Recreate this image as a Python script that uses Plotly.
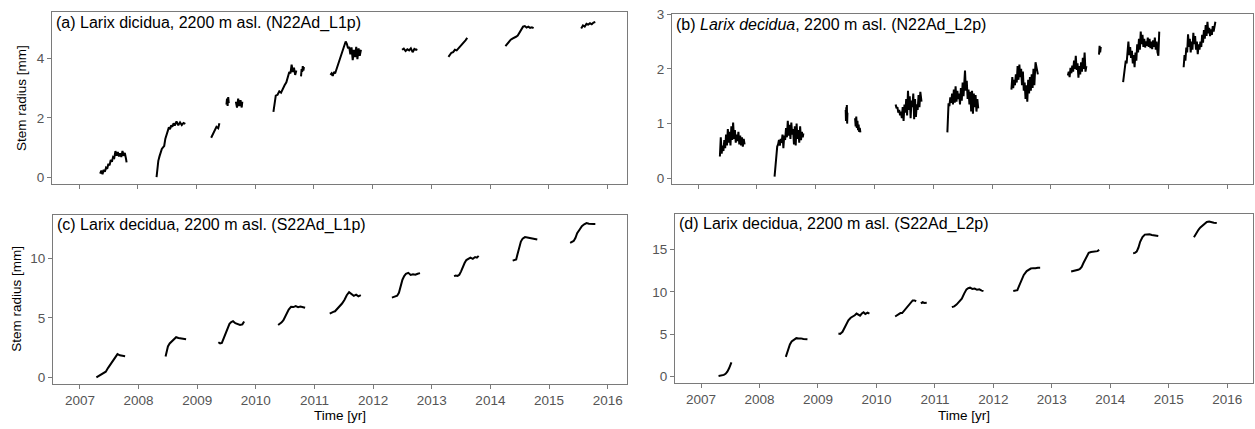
import plotly.graph_objects as go

# ---------------- data (decimal year, stem radius mm) ----------------
A_T = [
    [2007.36, 2007.38, 2007.40, 2007.42, 2007.44, 2007.46, 2007.48, 2007.50, 2007.52, 2007.54, 2007.56, 2007.58, 2007.60, 2007.62, 2007.64, 2007.66, 2007.68, 2007.70, 2007.72, 2007.74, 2007.76, 2007.78, 2007.80, 2007.81],
    [2008.32, 2008.33, 2008.35, 2008.37, 2008.39, 2008.41, 2008.43, 2008.45, 2008.47, 2008.49, 2008.51, 2008.53, 2008.55, 2008.57, 2008.59, 2008.61, 2008.63, 2008.66, 2008.69, 2008.72, 2008.75, 2008.78, 2008.81],
    [2009.25, 2009.28, 2009.31, 2009.34, 2009.37, 2009.39],
    [2009.51, 2009.52, 2009.53, 2009.54, 2009.55],
    [2009.67, 2009.69, 2009.71, 2009.73, 2009.75, 2009.77, 2009.78],
    [2010.31, 2010.33, 2010.35, 2010.38, 2010.41, 2010.44, 2010.47, 2010.50, 2010.53, 2010.56, 2010.58, 2010.60, 2010.62, 2010.64, 2010.66, 2010.68, 2010.70],
    [2010.78, 2010.79, 2010.80, 2010.81, 2010.82, 2010.83],
    [2011.28, 2011.30, 2011.32, 2011.34, 2011.36, 2011.38, 2011.40, 2011.42, 2011.44, 2011.46, 2011.48, 2011.50, 2011.52, 2011.54, 2011.56, 2011.58, 2011.60, 2011.62, 2011.64, 2011.66, 2011.68, 2011.70, 2011.72, 2011.74, 2011.76, 2011.78, 2011.80],
    [2012.50, 2012.53, 2012.56, 2012.59, 2012.62, 2012.65, 2012.68, 2012.71, 2012.74, 2012.76],
    [2013.29, 2013.31, 2013.34, 2013.37, 2013.40, 2013.43, 2013.46, 2013.49, 2013.52, 2013.55, 2013.58, 2013.61],
    [2014.26, 2014.29, 2014.32, 2014.35, 2014.38, 2014.41, 2014.44, 2014.47, 2014.50, 2014.53, 2014.56, 2014.59, 2014.62, 2014.65, 2014.68, 2014.71, 2014.74],
    [2015.55, 2015.58, 2015.61, 2015.64, 2015.67, 2015.70, 2015.73, 2015.76, 2015.79],
]
A_V = [
    [0.12, 0.22, 0.10, 0.25, 0.18, 0.32, 0.28, 0.45, 0.40, 0.58, 0.52, 0.68, 0.65, 0.88, 0.72, 0.85, 0.70, 0.80, 0.68, 0.88, 0.72, 0.82, 0.62, 0.50],
    [0.00, 0.30, 0.55, 0.70, 0.85, 0.95, 1.00, 1.05, 1.30, 1.45, 1.55, 1.68, 1.62, 1.75, 1.70, 1.82, 1.74, 1.88, 1.75, 1.85, 1.76, 1.83, 1.80],
    [1.33, 1.45, 1.55, 1.70, 1.65, 1.82],
    [2.45, 2.65, 2.40, 2.70, 2.50],
    [2.55, 2.35, 2.65, 2.40, 2.60, 2.35, 2.55],
    [2.20, 2.55, 2.75, 2.78, 2.90, 2.85, 3.00, 3.10, 3.20, 3.40, 3.55, 3.50, 3.80, 3.55, 3.70, 3.45, 3.60],
    [3.40, 3.65, 3.55, 3.75, 3.60, 3.72],
    [3.45, 3.50, 3.42, 3.55, 3.50, 3.62, 3.70, 3.85, 3.95, 4.05, 4.20, 4.30, 4.45, 4.58, 4.50, 4.35, 4.40, 4.15, 4.38, 3.95, 4.30, 4.05, 4.40, 3.98, 4.35, 4.10, 4.30],
    [4.30, 4.34, 4.26, 4.32, 4.28, 4.35, 4.22, 4.33, 4.30, 4.32],
    [4.06, 4.12, 4.20, 4.22, 4.30, 4.28, 4.35, 4.40, 4.48, 4.52, 4.62, 4.70],
    [4.42, 4.50, 4.58, 4.64, 4.68, 4.70, 4.74, 4.78, 4.88, 4.98, 5.08, 5.10, 5.05, 5.08, 5.04, 5.06, 5.03],
    [5.02, 5.12, 5.08, 5.18, 5.15, 5.20, 5.16, 5.22, 5.24],
]

B_T = [
    [2007.37, 2007.385, 2007.40, 2007.415, 2007.43, 2007.445, 2007.46, 2007.475, 2007.49, 2007.505, 2007.52, 2007.535, 2007.55, 2007.565, 2007.58, 2007.595, 2007.61, 2007.625, 2007.64, 2007.655, 2007.67, 2007.685, 2007.70, 2007.715, 2007.73, 2007.745, 2007.76, 2007.775, 2007.79],
    [2008.30, 2008.32, 2008.33, 2008.345, 2008.36, 2008.375, 2008.39, 2008.405, 2008.42, 2008.435, 2008.45, 2008.465, 2008.48, 2008.495, 2008.51, 2008.525, 2008.54, 2008.555, 2008.57, 2008.585, 2008.60, 2008.615, 2008.63, 2008.645, 2008.66, 2008.675, 2008.69, 2008.705, 2008.72, 2008.735, 2008.75, 2008.765, 2008.78, 2008.79],
    [2009.51, 2009.515, 2009.52, 2009.525, 2009.53, 2009.535, 2009.54],
    [2009.67, 2009.68, 2009.69, 2009.70, 2009.71, 2009.72, 2009.73, 2009.74, 2009.75, 2009.76],
    [2010.36, 2010.375, 2010.39, 2010.405, 2010.42, 2010.435, 2010.45, 2010.465, 2010.48, 2010.495, 2010.51, 2010.525, 2010.54, 2010.555, 2010.57, 2010.585, 2010.60, 2010.615, 2010.63, 2010.645, 2010.66, 2010.675, 2010.69, 2010.705, 2010.72, 2010.735, 2010.75, 2010.765, 2010.78, 2010.80],
    [2011.24, 2011.25, 2011.26, 2011.275, 2011.29, 2011.305, 2011.32, 2011.335, 2011.35, 2011.365, 2011.38, 2011.395, 2011.41, 2011.425, 2011.44, 2011.455, 2011.47, 2011.485, 2011.50, 2011.515, 2011.53, 2011.54, 2011.555, 2011.57, 2011.585, 2011.60, 2011.615, 2011.63, 2011.645, 2011.66, 2011.675, 2011.69, 2011.705, 2011.72, 2011.735, 2011.75, 2011.765],
    [2012.33, 2012.345, 2012.36, 2012.375, 2012.39, 2012.405, 2012.42, 2012.435, 2012.45, 2012.465, 2012.48, 2012.495, 2012.51, 2012.525, 2012.54, 2012.555, 2012.57, 2012.585, 2012.60, 2012.615, 2012.63, 2012.645, 2012.66, 2012.675, 2012.69, 2012.705, 2012.72, 2012.74, 2012.78],
    [2013.29, 2013.305, 2013.32, 2013.335, 2013.35, 2013.365, 2013.38, 2013.395, 2013.41, 2013.425, 2013.44, 2013.455, 2013.47, 2013.485, 2013.50, 2013.515, 2013.53, 2013.545, 2013.56, 2013.575, 2013.59, 2013.605],
    [2013.82, 2013.83, 2013.84, 2013.85],
    [2014.23, 2014.245, 2014.26, 2014.275, 2014.29, 2014.305, 2014.32, 2014.335, 2014.35, 2014.365, 2014.38, 2014.395, 2014.41, 2014.425, 2014.44, 2014.455, 2014.47, 2014.485, 2014.50, 2014.515, 2014.53, 2014.545, 2014.56, 2014.575, 2014.59, 2014.605, 2014.62, 2014.635, 2014.65, 2014.665, 2014.68, 2014.695, 2014.71, 2014.725, 2014.74, 2014.755, 2014.77, 2014.785, 2014.80, 2014.815, 2014.83, 2014.845],
    [2015.26, 2015.275, 2015.29, 2015.305, 2015.32, 2015.335, 2015.35, 2015.365, 2015.38, 2015.395, 2015.41, 2015.425, 2015.44, 2015.455, 2015.47, 2015.485, 2015.50, 2015.515, 2015.53, 2015.545, 2015.56, 2015.575, 2015.59, 2015.605, 2015.62, 2015.635, 2015.65, 2015.665, 2015.68, 2015.695, 2015.71, 2015.725, 2015.74, 2015.755, 2015.77, 2015.785, 2015.80],
]
B_V = [
    [0.40, 0.75, 0.45, 0.60, 0.50, 0.70, 0.55, 0.80, 0.60, 0.90, 0.65, 0.85, 0.60, 0.95, 0.70, 1.02, 0.72, 0.88, 0.65, 0.80, 0.68, 0.85, 0.62, 0.78, 0.60, 0.75, 0.58, 0.72, 0.62],
    [0.03, 0.30, 0.54, 0.58, 0.62, 0.70, 0.60, 0.72, 0.65, 0.80, 0.55, 0.78, 0.70, 0.92, 0.75, 1.05, 0.78, 0.98, 0.72, 1.02, 0.80, 0.90, 0.62, 0.95, 0.60, 1.00, 0.72, 0.88, 0.65, 0.95, 0.70, 0.85, 0.75, 0.82],
    [1.25, 1.05, 1.30, 1.10, 1.34, 1.00, 1.20],
    [1.10, 0.95, 1.13, 0.92, 1.05, 0.88, 0.98, 0.85, 0.92, 0.84],
    [1.35, 1.28, 1.30, 1.20, 1.25, 1.15, 1.22, 1.10, 1.30, 1.05, 1.35, 1.20, 1.45, 1.15, 1.60, 1.25, 1.50, 1.10, 1.42, 1.30, 1.55, 1.08, 1.45, 1.12, 1.35, 1.25, 1.52, 1.30, 1.58, 1.40],
    [0.84, 1.10, 1.37, 1.32, 1.48, 1.38, 1.55, 1.35, 1.62, 1.38, 1.68, 1.40, 1.60, 1.45, 1.55, 1.35, 1.65, 1.42, 1.75, 1.50, 1.85, 1.97, 1.60, 1.78, 1.45, 1.62, 1.35, 1.58, 1.22, 1.60, 1.18, 1.55, 1.30, 1.52, 1.22, 1.45, 1.28],
    [1.62, 1.85, 1.65, 1.80, 1.70, 1.90, 1.75, 2.05, 1.80, 2.08, 1.85, 2.00, 1.70, 1.95, 1.60, 1.75, 1.45, 1.70, 1.40, 1.80, 1.55, 1.85, 1.60, 1.90, 1.65, 2.00, 1.70, 2.12, 1.90],
    [1.88, 1.95, 1.85, 2.02, 1.92, 2.06, 1.95, 2.15, 2.00, 2.24, 1.98, 2.10, 1.84, 2.05, 1.90, 2.12, 1.95, 2.20, 2.00, 2.30, 1.95, 2.05],
    [2.26, 2.42, 2.30, 2.40],
    [1.76, 1.90, 2.00, 2.15, 2.10, 2.35, 2.50, 2.25, 2.40, 2.20, 2.33, 2.10, 2.25, 2.03, 2.30, 2.15, 2.45, 2.30, 2.55, 2.35, 2.68, 2.45, 2.62, 2.40, 2.55, 2.39, 2.50, 2.42, 2.57, 2.40, 2.55, 2.38, 2.50, 2.36, 2.52, 2.40, 2.57, 2.35, 2.50, 2.30, 2.24, 2.68],
    [2.03, 2.25, 2.15, 2.39, 2.30, 2.63, 2.40, 2.55, 2.30, 2.50, 2.35, 2.66, 2.45, 2.60, 2.35, 2.50, 2.27, 2.45, 2.35, 2.50, 2.40, 2.62, 2.48, 2.71, 2.55, 2.80, 2.60, 2.86, 2.65, 2.75, 2.60, 2.72, 2.62, 2.78, 2.68, 2.80, 2.86],
]

C_T = [
    [2007.28, 2007.32, 2007.36, 2007.40, 2007.44, 2007.48, 2007.52, 2007.56, 2007.60, 2007.64, 2007.68, 2007.72, 2007.77],
    [2008.46, 2008.48, 2008.50, 2008.53, 2008.56, 2008.60, 2008.64, 2008.68, 2008.72, 2008.76, 2008.81],
    [2009.36, 2009.39, 2009.42, 2009.45, 2009.48, 2009.51, 2009.55, 2009.58, 2009.61, 2009.65, 2009.69, 2009.73, 2009.77, 2009.80],
    [2010.38, 2010.41, 2010.44, 2010.47, 2010.50, 2010.53, 2010.56, 2010.60, 2010.64, 2010.68, 2010.72, 2010.76, 2010.80, 2010.84],
    [2011.26, 2011.29, 2011.32, 2011.35, 2011.39, 2011.43, 2011.47, 2011.51, 2011.55, 2011.59, 2011.63, 2011.67, 2011.71, 2011.75, 2011.79],
    [2012.32, 2012.35, 2012.38, 2012.41, 2012.44, 2012.47, 2012.50, 2012.53, 2012.56, 2012.60, 2012.64, 2012.68, 2012.72, 2012.76, 2012.80],
    [2013.38, 2013.41, 2013.44, 2013.47, 2013.50, 2013.53, 2013.56, 2013.59, 2013.62, 2013.66, 2013.70, 2013.74, 2013.77, 2013.80],
    [2014.38, 2014.41, 2014.44, 2014.46, 2014.49, 2014.52, 2014.55, 2014.59, 2014.63, 2014.67, 2014.71, 2014.75, 2014.80],
    [2015.36, 2015.39, 2015.42, 2015.45, 2015.48, 2015.52, 2015.56, 2015.60, 2015.64, 2015.68, 2015.72, 2015.76, 2015.79],
]
C_V = [
    [0.00, 0.12, 0.22, 0.30, 0.48, 0.80, 1.10, 1.45, 1.75, 1.95, 1.85, 1.80, 1.78],
    [1.75, 2.10, 2.60, 2.85, 3.00, 3.20, 3.37, 3.30, 3.25, 3.22, 3.20],
    [2.95, 2.85, 2.90, 3.25, 3.65, 4.10, 4.50, 4.65, 4.72, 4.55, 4.50, 4.40, 4.45, 4.70],
    [4.40, 4.50, 4.62, 4.80, 5.10, 5.45, 5.70, 5.92, 5.90, 5.98, 5.90, 5.95, 5.88, 5.84],
    [5.35, 5.45, 5.50, 5.55, 5.75, 5.95, 6.20, 6.50, 6.90, 7.15, 7.00, 6.85, 6.95, 6.80, 6.90],
    [6.70, 6.75, 6.80, 6.85, 7.10, 7.70, 8.20, 8.50, 8.70, 8.78, 8.60, 8.65, 8.62, 8.70, 8.75],
    [8.50, 8.55, 8.52, 8.62, 8.90, 9.30, 9.60, 9.85, 9.95, 10.05, 9.95, 10.10, 10.05, 10.20],
    [9.80, 9.82, 9.90, 10.30, 10.95, 11.40, 11.65, 11.78, 11.75, 11.72, 11.70, 11.65, 11.57],
    [11.30, 11.40, 11.45, 11.70, 12.10, 12.40, 12.70, 12.85, 12.96, 12.90, 12.92, 12.88, 12.88],
]

D_T = [
    [2007.30, 2007.33, 2007.36, 2007.39, 2007.42, 2007.45, 2007.48, 2007.50, 2007.52],
    [2008.45, 2008.47, 2008.49, 2008.52, 2008.55, 2008.59, 2008.63, 2008.67, 2008.71, 2008.75, 2008.79, 2008.82],
    [2009.35, 2009.38, 2009.42, 2009.45, 2009.48, 2009.52, 2009.56, 2009.60, 2009.63, 2009.66, 2009.69, 2009.72, 2009.75, 2009.78, 2009.81, 2009.85, 2009.88],
    [2010.32, 2010.35, 2010.38, 2010.41, 2010.44, 2010.47, 2010.50, 2010.53, 2010.56, 2010.59, 2010.62, 2010.65, 2010.68],
    [2010.76, 2010.79, 2010.82, 2010.86],
    [2011.29, 2011.33, 2011.37, 2011.40, 2011.43, 2011.46, 2011.50, 2011.54, 2011.57, 2011.60, 2011.64, 2011.68, 2011.72, 2011.76, 2011.80, 2011.83],
    [2012.34, 2012.37, 2012.41, 2012.44, 2012.48, 2012.52, 2012.57, 2012.61, 2012.64, 2012.68, 2012.72, 2012.76, 2012.80],
    [2013.33, 2013.37, 2013.41, 2013.45, 2013.48, 2013.51, 2013.54, 2013.57, 2013.60, 2013.63, 2013.67, 2013.71, 2013.75, 2013.78, 2013.81],
    [2014.39, 2014.42, 2014.45, 2014.48, 2014.51, 2014.55, 2014.59, 2014.63, 2014.67, 2014.71, 2014.75, 2014.79, 2014.82],
    [2015.43, 2015.45, 2015.48, 2015.51, 2015.54, 2015.57, 2015.61, 2015.65, 2015.69, 2015.73, 2015.77, 2015.82],
]
D_V = [
    [0.10, 0.12, 0.18, 0.22, 0.35, 0.60, 1.00, 1.35, 1.70],
    [2.35, 2.80, 3.35, 3.80, 4.15, 4.40, 4.55, 4.50, 4.52, 4.45, 4.48, 4.42],
    [5.10, 5.05, 5.30, 5.70, 6.20, 6.65, 6.95, 7.10, 7.25, 7.45, 7.30, 7.20, 7.45, 7.60, 7.40, 7.55, 7.45],
    [7.10, 7.25, 7.30, 7.50, 7.50, 7.75, 8.00, 8.30, 8.60, 8.85, 9.00, 9.00, 8.90],
    [8.65, 8.80, 8.70, 8.72],
    [8.20, 8.30, 8.50, 8.70, 8.90, 9.20, 9.80, 10.30, 10.45, 10.50, 10.35, 10.40, 10.25, 10.30, 10.15, 10.10],
    [10.10, 10.15, 10.20, 10.70, 11.45, 12.00, 12.45, 12.65, 12.75, 12.80, 12.78, 12.85, 12.85],
    [12.40, 12.45, 12.50, 12.60, 12.70, 12.95, 13.40, 13.80, 14.30, 14.60, 14.70, 14.75, 14.85, 14.80, 14.95],
    [14.55, 14.60, 14.75, 15.20, 15.90, 16.45, 16.75, 16.80, 16.78, 16.70, 16.65, 16.62, 16.58],
    [16.45, 16.70, 17.05, 17.35, 17.60, 17.80, 18.05, 18.25, 18.30, 18.20, 18.15, 18.12],
]

YEARS = [2007, 2008, 2009, 2010, 2011, 2012, 2013, 2014, 2015, 2016]
TITLES = [
    "(a) Larix dicidua, 2200 m asl. (N22Ad_L1p)",
    "(b) <i>Larix decidua</i>, 2200 m asl. (N22Ad_L2p)",
    "(c) Larix decidua, 2200 m asl. (S22Ad_L1p)",
    "(d) Larix decidua, 2200 m asl. (S22Ad_L2p)",
]
Y_TICKS = [[0, 2, 4], [0, 1, 2, 3], [0, 5, 10], [0, 5, 10, 15]]

# ---------------- layout geometry (pixels) ----------------
W, H = 1255, 429
FONT = "Liberation Sans, Arial, Helvetica, sans-serif"
BORDER = "#7a7a7a"
TICKTXT = "#555555"

# panel boxes: left, right, top, bottom (pixels)
BOXES = [(52, 627, 5, 181), (672, 1253, 7, 181), (53, 627, 212, 385), (675, 1253, 211, 384)]
XRANGES = [[2006.54, 2016.33], [2006.555, 2016.44], [2006.54, 2016.33], [2006.555, 2016.44]]
YRANGES = [[-0.24, 5.58], [-0.107, 3.005], [-0.55, 13.67], [-0.73, 19.23]]


def flat(ts, vs):
    xs, ys = [], []
    for t, v in zip(ts, vs):
        xs += list(t) + [None]
        ys += list(v) + [None]
    return xs, ys


fig = go.Figure()
datasets = [(A_T, A_V), (B_T, B_V), (C_T, C_V), (D_T, D_V)]
for i, (ts, vs) in enumerate(datasets):
    xs, ys = flat(ts, vs)
    sfx = "" if i == 0 else str(i + 1)
    fig.add_trace(go.Scatter(
        x=xs, y=ys, mode="lines", connectgaps=False,
        line=dict(color="black", width=2),
        xaxis="x" + sfx, yaxis="y" + sfx, showlegend=False, hoverinfo="skip",
    ))

layout = dict(
    width=W, height=H, margin=dict(l=0, r=0, t=0, b=0),
    paper_bgcolor="white", plot_bgcolor="white",
    font=dict(family=FONT, size=13.5, color="black"),
    showlegend=False,
)
annotations = []
for i, (l, r, t, b) in enumerate(BOXES):
    sfx = "" if i == 0 else str(i + 1)
    xa = dict(
        domain=[l / W, r / W], range=XRANGES[i], anchor="y" + sfx,
        tickmode="array", tickvals=YEARS, ticktext=[str(y) for y in YEARS],
        showticklabels=(i >= 2), ticks="outside", ticklen=4, tickwidth=1,
        tickcolor=BORDER, showline=True, linecolor=BORDER, linewidth=1, mirror=True,
        showgrid=False, zeroline=False,
        tickfont=dict(family=FONT, size=13.5, color=TICKTXT),
    )
    ya = dict(
        domain=[1 - b / H, 1 - t / H], range=YRANGES[i], anchor="x" + sfx,
        tickmode="array", tickvals=Y_TICKS[i], ticks="outside", ticklen=4, tickwidth=1,
        tickcolor=BORDER, showline=True, linecolor=BORDER, linewidth=1, mirror=True,
        showgrid=False, zeroline=False,
        tickfont=dict(family=FONT, size=13.5, color=TICKTXT),
    )
    layout["xaxis" + sfx] = xa
    layout["yaxis" + sfx] = ya
    # panel title inside top-left
    annotations.append(dict(
        text=TITLES[i], xref="paper", yref="paper",
        x=(l + 2) / W, y=1 - (t + 11) / H, xanchor="left", yanchor="middle",
        showarrow=False, font=dict(family=FONT, size=16, color="black"),
    ))

# y-axis titles (left panels)
for (l, r, t, b), xc in [(BOXES[0], 21), (BOXES[2], 16.5)]:
    annotations.append(dict(
        text="Stem radius [mm]", xref="paper", yref="paper",
        x=xc / W, y=1 - ((t + b) / 2) / H, xanchor="center", yanchor="middle",
        textangle=-90, showarrow=False, font=dict(family=FONT, size=13.5, color="black"),
    ))
# x-axis titles (bottom panels)
for (l, r, t, b) in [BOXES[2], BOXES[3]]:
    annotations.append(dict(
        text="Time [yr]", xref="paper", yref="paper",
        x=((l + r) / 2) / W, y=1 - 417 / H, xanchor="center", yanchor="middle",
        showarrow=False, font=dict(family=FONT, size=13.5, color="black"),
    ))
layout["annotations"] = annotations
fig.update_layout(**layout)
fig.write_html(
    "out.html",
    config={"displayModeBar": False},
    post_script="document.body.style.margin='0';document.body.style.overflow='hidden';"
                "document.documentElement.style.overflow='hidden';",
)
